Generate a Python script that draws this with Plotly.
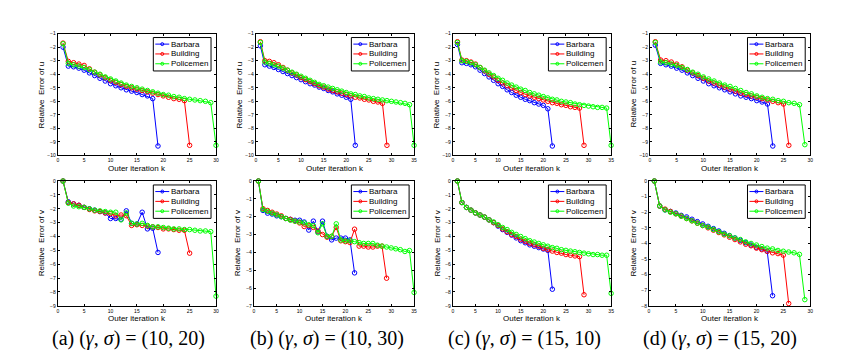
import plotly.graph_objects as go

W, H = 845, 350

# ---------------- data (log10 relative errors), k = 1..n ----------------
# (a) (gamma, sigma) = (10, 20)
a_u_barbara = [-2.0, -3.4, -3.45, -3.55, -3.7, -3.9, -4.1, -4.3, -4.5, -4.7, -4.85, -5.0,
               -5.15, -5.25, -5.35, -5.5, -5.6, -5.8, -9.3]
a_u_building = [-1.7, -3.05, -3.15, -3.25, -3.35, -3.6, -3.85, -4.05, -4.25, -4.45, -4.6,
                -4.75, -4.9, -5.0, -5.1, -5.2, -5.3, -5.4, -5.5, -5.6, -5.7, -5.8, -5.85,
                -5.95, -9.25]
a_u_policemen = [-1.75, -3.2, -3.3, -3.4, -3.5, -3.65, -3.85, -4.0, -4.2, -4.35, -4.5, -4.65,
                 -4.8, -4.9, -5.0, -5.1, -5.2, -5.3, -5.4, -5.5, -5.55, -5.65, -5.7, -5.8,
                 -5.85, -5.9, -5.95, -6.0, -6.1, -9.25]
a_v_barbara = [0.0, -1.5, -1.65, -1.75, -1.9, -2.0, -2.1, -2.2, -2.3, -2.7, -2.7, -2.75,
               -2.15, -3.05, -3.1, -2.25, -3.45, -3.4, -5.15]
a_v_building = [0.0, -1.55, -1.65, -1.75, -1.9, -2.05, -2.15, -2.2, -2.3, -2.35, -2.5, -2.45,
                -2.5, -3.2, -3.15, -3.2, -3.25, -3.3, -3.35, -3.45, -3.45, -3.5, -3.55,
                -3.55, -5.2]
a_v_policemen = [0.0, -1.6, -1.8, -1.85, -1.9, -2.0, -2.1, -2.15, -2.2, -2.25, -2.25, -2.8,
                 -2.3, -3.05, -3.1, -3.05, -3.2, -3.3, -3.3, -3.35, -3.4, -3.45, -3.45, -3.5,
                 -3.5, -3.55, -3.6, -3.6, -3.65, -8.3]

# (b) (gamma, sigma) = (10, 30)
b_u_barbara = [-1.9, -3.3, -3.4, -3.5, -3.65, -3.8, -3.95, -4.1, -4.25, -4.4, -4.55, -4.7,
               -4.8, -4.95, -5.05, -5.2, -5.3, -5.45, -5.55, -5.7, -5.85, -9.25]
b_u_building = [-1.6, -3.0, -3.05, -3.15, -3.3, -3.5, -3.7, -3.9, -4.05, -4.25, -4.4, -4.55,
                -4.7, -4.85, -4.95, -5.1, -5.2, -5.3, -5.4, -5.5, -5.6, -5.7, -5.75, -5.85,
                -5.9, -6.0, -6.05, -6.15, -9.25]
b_u_policemen = [-1.65, -3.1, -3.2, -3.3, -3.4, -3.55, -3.7, -3.85, -4.0, -4.15, -4.3, -4.45,
                 -4.6, -4.75, -4.85, -4.95, -5.05, -5.15, -5.25, -5.35, -5.45, -5.5, -5.6,
                 -5.65, -5.75, -5.8, -5.85, -5.9, -5.95, -6.0, -6.05, -6.1, -6.15, -6.25,
                 -9.25]
b_v_barbara = [0.0, -1.65, -1.8, -1.85, -1.95, -2.0, -2.1, -2.15, -2.2, -2.2, -2.3, -2.75,
               -2.25, -2.85, -2.25, -3.1, -3.3, -3.2, -3.2, -3.2, -3.3, -5.15]
b_v_building = [0.0, -1.55, -1.65, -1.75, -1.85, -1.95, -2.1, -2.15, -2.25, -2.35, -2.55,
                -2.5, -2.6, -2.8, -3.0, -3.15, -3.1, -2.6, -3.35, -3.4, -3.45, -2.7, -3.65,
                -3.65, -3.7, -3.7, -3.65, -3.65, -5.45]
b_v_policemen = [0.0, -1.6, -1.7, -1.8, -1.9, -2.0, -2.1, -2.2, -2.25, -2.3, -2.35, -2.45,
                 -2.5, -2.9, -2.4, -3.1, -3.1, -2.4, -3.3, -3.35, -3.35, -3.4, -3.45, -3.5,
                 -3.5, -3.5, -3.6, -3.65, -3.7, -3.75, -3.8, -3.85, -3.95, -3.9, -6.25]

# (c) (gamma, sigma) = (15, 10)
c_u_barbara = [-1.8, -3.15, -3.2, -3.3, -3.45, -3.7, -3.95, -4.2, -4.45, -4.7, -4.9, -5.15,
               -5.35, -5.55, -5.7, -5.85, -5.95, -6.1, -6.2, -6.3, -6.55, -9.3]
c_u_building = [-1.6, -2.95, -3.0, -3.1, -3.25, -3.5, -3.75, -4.0, -4.2, -4.45, -4.65, -4.85,
                -5.0, -5.2, -5.35, -5.5, -5.6, -5.7, -5.8, -5.9, -6.0, -6.1, -6.15, -6.25,
                -6.3, -6.4, -6.45, -6.5, -9.25]
c_u_policemen = [-1.65, -3.0, -3.05, -3.15, -3.3, -3.5, -3.7, -3.9, -4.1, -4.3, -4.45, -4.65,
                 -4.8, -4.95, -5.1, -5.2, -5.35, -5.45, -5.55, -5.65, -5.75, -5.85, -5.9,
                 -6.0, -6.05, -6.1, -6.2, -6.25, -6.3, -6.35, -6.4, -6.45, -6.45, -6.5,
                 -9.25]
c_v_barbara = [0.0, -1.55, -1.9, -2.1, -2.3, -2.45, -2.6, -2.8, -3.0, -3.25, -3.5, -3.7,
               -3.9, -4.1, -4.3, -4.45, -4.6, -4.7, -4.8, -4.9, -5.0, -7.8]
c_v_building = [0.0, -1.55, -1.9, -2.1, -2.3, -2.45, -2.6, -2.8, -3.0, -3.2, -3.45, -3.65,
                -3.85, -4.0, -4.2, -4.35, -4.5, -4.6, -4.7, -4.85, -4.95, -5.05, -5.15, -5.2,
                -5.3, -5.35, -5.4, -5.45, -8.2]
c_v_policemen = [0.0, -1.55, -1.9, -2.1, -2.3, -2.45, -2.6, -2.8, -2.95, -3.15, -3.35, -3.5,
                 -3.7, -3.85, -4.0, -4.15, -4.3, -4.4, -4.5, -4.6, -4.7, -4.8, -4.85, -4.95,
                 -5.0, -5.05, -5.1, -5.15, -5.2, -5.25, -5.3, -5.3, -5.35, -5.35, -8.1]

# (d) (gamma, sigma) = (15, 20)
d_u_barbara = [-1.85, -3.2, -3.3, -3.4, -3.55, -3.7, -3.9, -4.1, -4.3, -4.5, -4.7, -4.85,
               -5.0, -5.15, -5.3, -5.45, -5.6, -5.7, -5.8, -5.95, -6.05, -6.2, -9.3]
d_u_building = [-1.6, -2.95, -3.0, -3.1, -3.25, -3.45, -3.7, -3.9, -4.1, -4.3, -4.5, -4.65,
                -4.8, -4.95, -5.1, -5.25, -5.4, -5.5, -5.6, -5.7, -5.8, -5.9, -6.0, -6.1,
                -6.2, -9.25]
d_u_policemen = [-1.65, -3.1, -3.15, -3.25, -3.35, -3.5, -3.65, -3.85, -4.0, -4.2, -4.35,
                 -4.5, -4.65, -4.8, -4.9, -5.05, -5.2, -5.35, -5.45, -5.6, -5.7, -5.8, -5.85,
                 -5.95, -6.0, -6.1, -6.15, -6.25, -9.2]
d_v_barbara = [0.0, -1.6, -1.85, -1.95, -2.05, -2.2, -2.3, -2.45, -2.6, -2.75, -2.9, -3.05,
               -3.2, -3.35, -3.5, -3.65, -3.8, -3.95, -4.1, -4.25, -4.35, -4.5, -7.35]
d_v_building = [0.0, -1.6, -1.8, -1.95, -2.1, -2.25, -2.4, -2.55, -2.7, -2.85, -3.0, -3.15,
                -3.3, -3.45, -3.6, -3.75, -3.9, -4.05, -4.15, -4.3, -4.4, -4.5, -4.6, -4.65,
                -4.75, -7.85]
d_v_policemen = [0.0, -1.6, -1.85, -2.0, -2.1, -2.25, -2.4, -2.55, -2.7, -2.85, -2.95, -3.1,
                 -3.25, -3.4, -3.5, -3.65, -3.75, -3.9, -4.0, -4.1, -4.2, -4.3, -4.35, -4.45,
                 -4.5, -4.55, -4.6, -4.7, -7.6]

series_names = ["Barbara", "Building", "Policemen"]
series_colors = ["#0000ff", "#ff0000", "#00ff00"]

captions = ["(a) (<i>γ</i>, <i>σ</i>) = (10, 20)", "(b) (<i>γ</i>, <i>σ</i>) = (10, 30)",
            "(c) (<i>γ</i>, <i>σ</i>) = (15, 10)", "(d) (<i>γ</i>, <i>σ</i>) = (15, 20)"]
x_max = [30, 35, 35, 30]
u_range = [-10, -1]
v_min = [-9, -7, -9, -8]

u_data = [(a_u_barbara, a_u_building, a_u_policemen), (b_u_barbara, b_u_building, b_u_policemen),
          (c_u_barbara, c_u_building, c_u_policemen), (d_u_barbara, d_u_building, d_u_policemen)]
v_data = [(a_v_barbara, a_v_building, a_v_policemen), (b_v_barbara, b_v_building, b_v_policemen),
          (c_v_barbara, c_v_building, c_v_policemen), (d_v_barbara, d_v_building, d_v_policemen)]

# ---------------- layout geometry (pixels) ----------------
top_cols = [(49, 208), (248, 407), (446, 605), (644, 805)]
bot_cols = [(49, 208), (246, 407), (446, 605), (643, 805)]
top_row = (23, 147)
bot_row = (173, 300)
caption_x = [120, 320, 518, 714]
caption_y = 333

FONT = "Liberation Sans, Arial, sans-serif"


def px_x(p):
    return p / W


def px_y(p):
    return 1 - p / H


fig = go.Figure()
layout = dict(width=W, height=H, margin=dict(l=0, r=0, t=0, b=0),
              paper_bgcolor="white", plot_bgcolor="white", showlegend=False)
shapes = []
annotations = []

panels = []
for c in range(4):
    panels.append((top_cols[c], top_row, x_max[c], u_range, u_data[c], "Relative  Error of u"))
for c in range(4):
    panels.append((bot_cols[c], bot_row, x_max[c], [v_min[c], 0], v_data[c], "Relative  Error of v"))

for i, (cols, rows, xm, yr, data, ytitle) in enumerate(panels):
    n = i + 1
    xa = "xaxis" if n == 1 else f"xaxis{n}"
    ya = "yaxis" if n == 1 else f"yaxis{n}"
    xr = "x" if n == 1 else f"x{n}"
    yrf = "y" if n == 1 else f"y{n}"
    axis_common = dict(showline=True, linecolor="black", linewidth=1, mirror="ticks",
                       ticks="inside", ticklen=2, tickwidth=1, tickcolor="black",
                       showgrid=False, zeroline=False,
                       tickfont=dict(family=FONT, size=5, color="black"))
    layout[xa] = dict(axis_common, domain=[px_x(cols[0]), px_x(cols[1])], range=[0, xm],
                      dtick=5, tick0=0, anchor=yrf)
    layout[ya] = dict(axis_common, domain=[px_y(rows[1]), px_y(rows[0])], range=yr,
                      dtick=1, tick0=0, anchor=xr)
    # axis titles
    annotations.append(dict(text="Outer iteration k", xref="paper", yref="paper",
                            x=px_x((cols[0] + cols[1]) / 2), y=px_y(rows[1] + 13),
                            xanchor="center", yanchor="middle", showarrow=False, borderpad=0,
                            font=dict(family=FONT, size=8, color="black")))
    annotations.append(dict(text=ytitle, xref="paper", yref="paper", textangle=-90,
                            x=px_x(cols[0] - 16), y=px_y((rows[0] + rows[1]) / 2),
                            xanchor="center", yanchor="middle", showarrow=False, borderpad=0,
                            font=dict(family=FONT, size=8, color="black")))
    for s in range(3):
        vals = data[s]
        fig.add_trace(go.Scatter(
            x=list(range(1, len(vals) + 1)), y=vals, mode="lines+markers",
            name=series_names[s], xaxis=xr, yaxis=yrf, cliponaxis=False,
            line=dict(color=series_colors[s], width=1),
            marker=dict(symbol="circle-open", size=4.5, color=series_colors[s],
                        line=dict(width=1, color=series_colors[s]))))
    # legend box
    bx1 = cols[1] - 5
    bx0 = bx1 - 58
    by0 = rows[0] + 4
    by1 = by0 + 34
    shapes.append(dict(type="rect", xref="paper", yref="paper",
                       x0=px_x(bx0), x1=px_x(bx1), y0=px_y(by1), y1=px_y(by0),
                       line=dict(color="black", width=1), fillcolor="white", layer="above"))
    for s in range(3):
        ry = by0 + 6.7 + 10 * s
        shapes.append(dict(type="line", xref="paper", yref="paper",
                           x0=px_x(bx0 + 2), x1=px_x(bx0 + 16), y0=px_y(ry), y1=px_y(ry),
                           line=dict(color=series_colors[s], width=1), layer="above"))
        shapes.append(dict(type="circle", xref="paper", yref="paper",
                           x0=px_x(bx0 + 7.5), x1=px_x(bx0 + 10.5),
                           y0=px_y(ry + 1.5), y1=px_y(ry - 1.5),
                           line=dict(color=series_colors[s], width=1), layer="above"))
        annotations.append(dict(text=series_names[s], xref="paper", yref="paper",
                                x=px_x(bx0 + 16.5), y=px_y(ry), xanchor="left", yanchor="middle",
                                showarrow=False, borderpad=0,
                                font=dict(family=FONT, size=8, color="black")))

for c in range(4):
    annotations.append(dict(text=captions[c], xref="paper", yref="paper",
                            x=px_x(caption_x[c]), y=px_y(caption_y), xanchor="center",
                            yanchor="middle", showarrow=False,
                            font=dict(family="Liberation Serif, Times New Roman, serif",
                                      size=20, color="black")))

layout["shapes"] = shapes
layout["annotations"] = annotations
fig.update_layout(**layout)
fig.write_html("out.html")
